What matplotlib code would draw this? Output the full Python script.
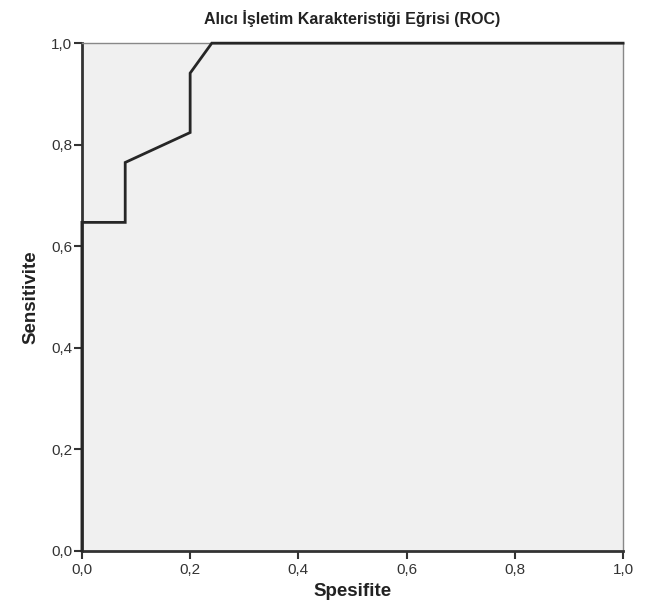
import matplotlib
matplotlib.use('Agg')
import matplotlib.pyplot as plt
import numpy as np

### ROC points
fpr = [0.0, 0.0, 0.08, 0.08, 0.20, 0.20, 0.24, 1.0]
tpr = [0.0, 0.647, 0.647, 0.765, 0.824, 0.941, 1.0, 1.0]
ticks = [0.0, 0.2, 0.4, 0.6, 0.8, 1.0]
tick_labels = ['0,0', '0,2', '0,4', '0,6', '0,8', '1,0']

plt.rcParams['font.family'] = ['Liberation Sans', 'DejaVu Sans']

fig = plt.figure(figsize=(6.45, 6.08), dpi=100)
ax = fig.add_axes([0.127, 0.094, 0.839, 0.835])
ax.set_facecolor('#f0f0f0')

ax.plot(fpr, tpr, color='#262626', linewidth=2, solid_joinstyle='miter', clip_on=False, zorder=3)

ax.set_xlim(0, 1)
ax.set_ylim(0, 1)
ax.set_xticks(ticks)
ax.set_xticklabels(tick_labels)
ax.set_yticks(ticks)
ax.set_yticklabels(tick_labels)
ax.tick_params(direction='out', length=6, width=1.5, color='#333333', labelsize=11, labelcolor='#333333', pad=1)
ax.tick_params(axis='x', pad=3)

for side in ['left', 'bottom']:
    ax.spines[side].set_linewidth(2)
    ax.spines[side].set_color('#333333')
for side in ['top', 'right']:
    ax.spines[side].set_linewidth(1)
    ax.spines[side].set_color('#888888')

ax.set_xlabel('Spesifite', fontsize=13.5, fontweight='bold', color='#222222', labelpad=4)
ax.set_ylabel('Sensitivite', fontsize=13.5, fontweight='bold', color='#222222', labelpad=8)
ax.set_title('Alıcı İşletim Karakteristiği Eğrisi (ROC)', fontsize=11.5, fontweight='bold',
             color='#222222', pad=14)

fig.savefig('out.png', dpi=100)
